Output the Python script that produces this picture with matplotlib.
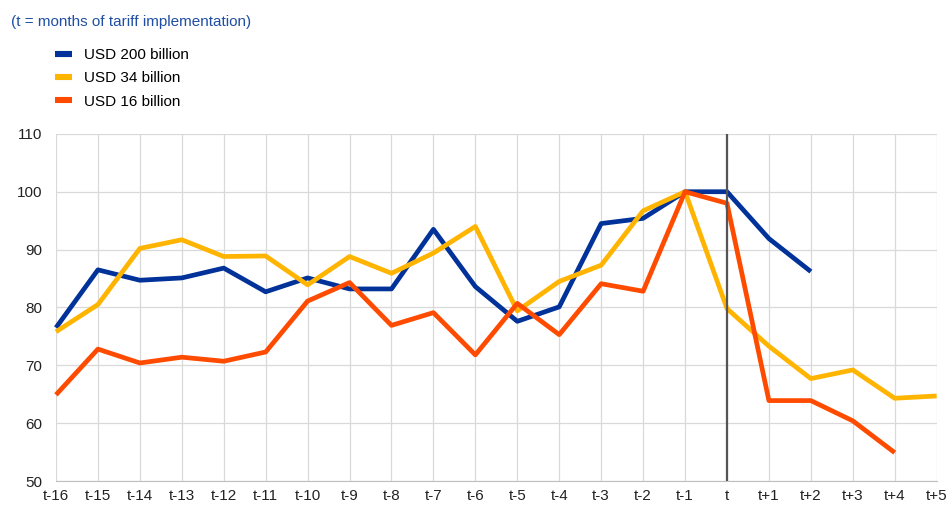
"""Import volumes around tariff implementation (index, t-1 = 100)."""

import matplotlib
matplotlib.use('Agg')
from matplotlib import pyplot as plot

# data
periods = ['t-16', 't-15', 't-14', 't-13', 't-12', 't-11', 't-10', 't-9', 't-8', 't-7', 't-6',
           't-5', 't-4', 't-3', 't-2', 't-1', 't', 't+1', 't+2', 't+3', 't+4', 't+5']
usd_200 = [76.5, 86.5, 84.7, 85.1, 86.8, 82.7, 85.1, 83.2, 83.2, 93.5, 83.6,
           77.6, 80.1, 94.5, 95.4, 100.0, 100.0, 91.9, 86.2]
usd_34 = [75.8, 80.5, 90.2, 91.7, 88.8, 88.9, 83.9, 88.8, 85.9, 89.4, 94.0,
          79.4, 84.5, 87.3, 96.7, 100.0, 79.8, 73.3, 67.7, 69.2, 64.3, 64.7]
usd_16 = [64.9, 72.8, 70.4, 71.4, 70.7, 72.3, 81.1, 84.3, 76.9, 79.1, 71.8,
          80.7, 75.3, 84.1, 82.8, 100.0, 98.0, 63.9, 63.9, 60.4, 54.9]
series = [('USD 200 billion', usd_200, '#003299'),
          ('USD 34 billion', usd_34, '#FFB400'),
          ('USD 16 billion', usd_16, '#FF4B00')]

plot.rcParams['font.family'] = ['Liberation Sans', 'DejaVu Sans']

figure = plot.figure(figsize=(9.49, 5.09), dpi=100)
figure.set_facecolor('white')
ax = figure.add_axes([0.059, 0.055, 0.928, 0.682])

x = list(range(len(periods)))
for label, values, color in series:
    ax.plot(x[:len(values)], values, color=color, lw=3.4, label=label,
            solid_capstyle='butt', zorder=30, clip_on=False)

# implementation month marker
ax.axvline(periods.index('t'), color='#555555', lw=1.6, zorder=40)

ax.set_xlim(0, len(periods) - 1)
ax.set_ylim(50, 110)
ax.set_xticks(x)
ax.set_xticklabels(periods)
ax.set_yticks(range(50, 111, 10))
ax.grid(True, color='#d9d9d9', lw=0.9, zorder=0)
ax.set_axisbelow(True)
for side in 'top', 'right', 'left':
    ax.spines[side].set_visible(False)
ax.spines['bottom'].set_color('#bfbfbf')
ax.tick_params(axis='both', which='both', length=0, labelsize=11, colors='#222222')
ax.tick_params(axis='y', pad=10)
ax.tick_params(axis='x', pad=6)

figure.text(0.012, 0.957, '(t = months of tariff implementation)', color='#1f4ea3',
            fontsize=11, ha='left', va='center')
legend = ax.legend(loc='upper left', bbox_to_anchor=(0.052, 0.918),
                   bbox_transform=figure.transFigure, frameon=False, fontsize=11,
                   handlelength=1.1, handletextpad=0.8, labelspacing=0.62, borderaxespad=0)
for handle in legend.get_lines():
    handle.set_linewidth(4.4)

figure.savefig('out.png', dpi=100)
